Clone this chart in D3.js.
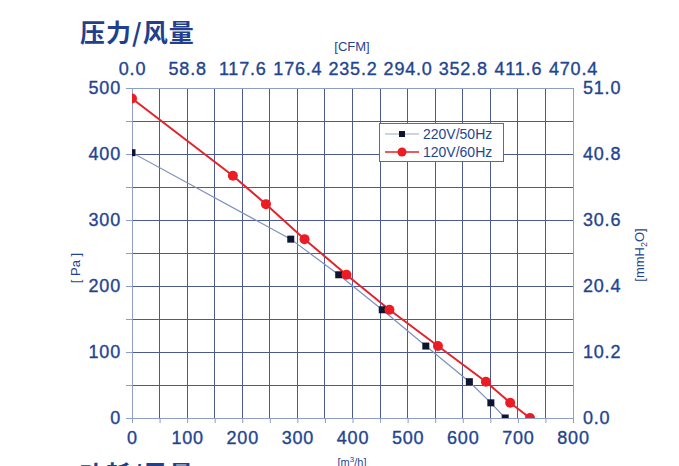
<!DOCTYPE html>
<html><head><meta charset="utf-8">
<script src="https://cdn.jsdelivr.net/npm/d3@7"></script>
<style>
body{margin:0;background:#fff;}
svg{display:block;}
</style></head>
<body><svg id="c" width="679" height="466"></svg>
<script>
// ---- data ----
const flow220 = [0, 288, 375, 454, 533, 612, 651, 677];
const pa220   = [402, 271, 217, 164, 109, 55, 23, 0];
const flow120 = [0, 183, 243, 313, 389, 467, 555, 642, 686, 722];
const pa120   = [484, 367, 324, 271, 217, 164, 109, 55, 23, 0];
const bottomTicks = [0, 100, 200, 300, 400, 500, 600, 700, 800];
const cfmTicks = ["0.0","58.8","117.6","176.4","235.2","294.0","352.8","411.6","470.4"];
const paTicks = [0, 100, 200, 300, 400, 500];
const mmTicks = ["0.0","10.2","20.4","30.6","40.8","51.0"];
const seriesNames = ["220V/50Hz","120V/60Hz"];

const svg = d3.select("#c");
const L=132, R=573, T=88, B=418;
const x = d3.scaleLinear().domain([0,800]).range([L,R]);
const y = d3.scaleLinear().domain([0,500]).range([B,T]);
const txt = "#1f4591", grid="#4b5b92", border="#8e9dc6";
const font = "'Liberation Sans', Arial, sans-serif";

// grid
const gx = d3.range(0, 801, 50), gy = d3.range(0, 501, 50);
svg.append("g").selectAll("line").data(gx).join("line")
  .attr("x1", d=>x(d)).attr("x2", d=>x(d)).attr("y1", T).attr("y2", B)
  .attr("stroke", grid).attr("stroke-width", 1).attr("shape-rendering","crispEdges");
svg.append("g").selectAll("line").data(gy).join("line")
  .attr("y1", d=>y(d)).attr("y2", d=>y(d)).attr("x1", L).attr("x2", R)
  .attr("stroke", grid).attr("stroke-width", 1).attr("shape-rendering","crispEdges");
// border
svg.append("rect").attr("x",L).attr("y",T).attr("width",R-L).attr("height",B-T)
  .attr("fill","none").attr("stroke",border).attr("stroke-width",1).attr("shape-rendering","crispEdges");

// axes
const styleAxis = g => { g.select(".domain").remove(); g.selectAll("line").attr("stroke", border);
  g.selectAll("text").attr("fill", txt).attr("stroke", txt).attr("stroke-width", 0.35)
   .attr("font-family", font).attr("font-size", "18px").attr("letter-spacing","0.8px"); };
svg.append("g").attr("transform",`translate(0,${B})`)
  .call(d3.axisBottom(x).tickValues(gx).tickSize(5).tickPadding(8).tickFormat(d=> bottomTicks.includes(d)? d : ""))
  .call(styleAxis);
svg.append("g").attr("transform",`translate(0,${T})`)
  .call(d3.axisTop(x).tickValues(bottomTicks).tickSize(0).tickPadding(13).tickFormat((d,i)=>cfmTicks[i]))
  .call(styleAxis);
svg.append("g").attr("transform",`translate(${L},0)`)
  .call(d3.axisLeft(y).tickValues(gy).tickSize(6).tickPadding(5).tickFormat(d=> paTicks.includes(d)? d : ""))
  .call(styleAxis);
svg.append("g").attr("transform",`translate(${R},0)`)
  .call(d3.axisRight(y).tickValues(paTicks).tickSize(0).tickPadding(10).tickFormat((d,i)=>mmTicks[i]))
  .call(styleAxis);

// titles
svg.append("text").attr("x",80).attr("y",42).text("压力/风量")
  .attr("font-family","'Noto Sans CJK SC', sans-serif").attr("font-weight","bold")
  .attr("font-size","25px").attr("letter-spacing","1px").attr("fill","#213f8c");
svg.append("text").attr("x",80).attr("y",484).text("功耗/风量")
  .attr("font-family","'Noto Sans CJK SC', sans-serif").attr("font-weight","bold")
  .attr("font-size","25px").attr("letter-spacing","1px").attr("fill","#213f8c");
svg.append("text").attr("x",352).attr("y",51).attr("text-anchor","middle").text("[CFM]")
  .attr("font-family",font).attr("font-size","13px").attr("fill",txt);
svg.append("text").attr("x",352).attr("y",466).attr("text-anchor","middle")
  .attr("font-family",font).attr("font-size","11px").attr("fill",txt)
  .call(t=>{ t.append("tspan").text("[m"); t.append("tspan").text("3").attr("font-size","8px").attr("dy","-4"); t.append("tspan").text("/h]").attr("dy","4"); });
svg.append("text").attr("transform","translate(80,268) rotate(-90)").attr("text-anchor","middle")
  .text("[ Pa ]").attr("font-family",font).attr("font-size","13px").attr("fill",txt);
svg.append("text").attr("transform","translate(644,255) rotate(-90)").attr("text-anchor","middle")
  .attr("font-family",font).attr("font-size","13px").attr("fill",txt)
  .call(t=>{ t.append("tspan").text("[mmH"); t.append("tspan").text("2").attr("font-size","9px").attr("dy","3"); t.append("tspan").text("O]").attr("dy","-3"); });

// clip
svg.append("clipPath").attr("id","pc").append("rect").attr("x",L).attr("y",T).attr("width",R-L).attr("height",B-T);
const plot = svg.append("g").attr("clip-path","url(#pc)");
const line = d3.line().x(d=>x(d[0])).y(d=>y(d[1]));
const d220 = flow220.map((f,i)=>[f,pa220[i]]);
const d120 = flow120.map((f,i)=>[f,pa120[i]]);
plot.append("path").datum(d220).attr("d",line).attr("fill","none").attr("stroke","#7d8fbd").attr("stroke-width",1.2);
plot.append("path").datum(d120).attr("d",line).attr("fill","none").attr("stroke","#e3242b").attr("stroke-width",2);
plot.selectAll(".sq").data(d220).join("rect").attr("class","sq")
  .attr("x",d=>x(d[0])-3.5).attr("y",d=>y(d[1])-3.5).attr("width",7).attr("height",7).attr("fill","#0d1530");
plot.selectAll(".ci").data(d120).join("circle").attr("class","ci")
  .attr("cx",d=>x(d[0])).attr("cy",d=>y(d[1])).attr("r",5).attr("fill","#ec1c24");

// legend
const lg = svg.append("g");
lg.append("rect").attr("x",379.5).attr("y",123.5).attr("width",124).attr("height",38)
  .attr("fill","#fff").attr("stroke","#5a6aa0").attr("stroke-width",1);
const ly = [134, 152];
lg.append("line").attr("x1",385).attr("x2",419).attr("y1",ly[0]).attr("y2",ly[0]).attr("stroke","#9aa8cc").attr("stroke-width",1.2);
lg.append("rect").attr("x",399).attr("y",ly[0]-3).attr("width",6).attr("height",6).attr("fill","#0d1530");
lg.append("line").attr("x1",385).attr("x2",419).attr("y1",ly[1]).attr("y2",ly[1]).attr("stroke","#e3242b").attr("stroke-width",1.5);
lg.append("circle").attr("cx",402).attr("cy",ly[1]).attr("r",4.5).attr("fill","#ec1c24");
lg.selectAll(".lt").data(seriesNames).join("text").attr("class","lt")
  .attr("x",423).attr("y",(d,i)=>ly[i]+5).text(d=>d)
  .attr("font-family",font).attr("font-size","14px").attr("fill",txt);
</script></body></html>
